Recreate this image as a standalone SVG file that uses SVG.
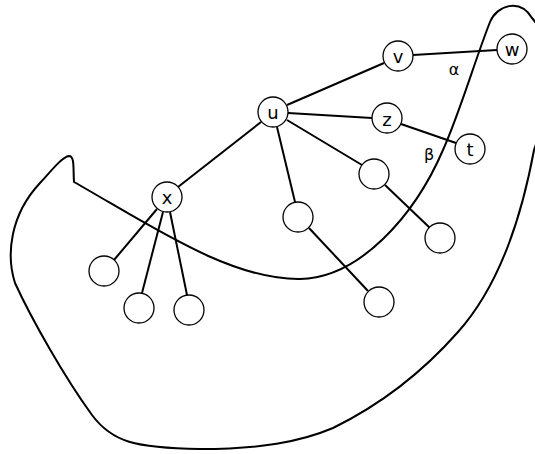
<svg xmlns="http://www.w3.org/2000/svg" width="535" height="454" viewBox="0 0 535 454">
<style>
.n{fill:#fff;stroke:#000;stroke-width:1.3}
.e{stroke:#000;stroke-width:2;fill:none}
.b{stroke:#000;stroke-width:2;fill:none}
.t{font-family:"DejaVu Sans",sans-serif;font-size:18px;text-anchor:middle;dominant-baseline:central;fill:#000}
.g{font-family:"DejaVu Sans",sans-serif;font-size:16px;text-anchor:middle;dominant-baseline:central;fill:#000}
</style>
<rect width="535" height="454" fill="#fff"/>
<path class="b" d="M74,182 C150,225 230,280 300,279 C360,278 415,215 443,150 C460,112 475,60 490,22 C497,5 520,-2 532,18 C556,45 550,105 534,150 C522,215 500,285 458,332 C420,375 380,405 333,428 C300,442 260,449 200,449 C135,448 112,442 92,415 C65,378 32,320 15,283 C6,255 10,215 40,183 C52,170 62,157 69,156 C75,156 73,170 74,182 Z"/>
<g id="connectors">
<line class="e" x1="287" y1="105" x2="384" y2="63"/>
<line class="e" x1="413" y1="55" x2="497" y2="50"/>
<line class="e" x1="288" y1="113" x2="372" y2="118"/>
<line class="e" x1="401" y1="124" x2="456" y2="143"/>
<line class="e" x1="261" y1="122" x2="178" y2="187"/>
<line class="e" x1="277" y1="127" x2="295" y2="202"/>
<line class="e" x1="287" y1="120" x2="362" y2="165"/>
<line class="e" x1="385" y1="185" x2="430" y2="228"/>
<line class="e" x1="309" y1="228" x2="368" y2="291"/>
<line class="e" x1="157" y1="209" x2="114" y2="260"/>
<line class="e" x1="163" y1="212" x2="142" y2="293"/>
<line class="e" x1="170" y1="212" x2="187" y2="295"/>
</g>
<g id="v"><circle class="n" cx="398" cy="56" r="15"/><text class="t" x="398" y="56">v</text></g>
<g id="w"><circle class="n" cx="512" cy="49" r="15"/><text class="t" x="512" y="49">w</text></g>
<g id="z"><circle class="n" cx="387" cy="118" r="15"/><text class="t" x="387" y="119">z</text></g>
<g id="t"><circle class="n" cx="470" cy="149" r="15"/><text class="t" x="470" y="149">t</text></g>
<g id="u"><circle class="n" cx="273" cy="112" r="15"/><text class="t" x="273" y="112">u</text></g>
<g id="x"><circle class="n" cx="167" cy="197" r="15"/><text class="t" x="167" y="197">x</text></g>
<g id="n1"><circle class="n" cx="104" cy="271" r="15"/></g>
<g id="n2"><circle class="n" cx="139" cy="308" r="15"/></g>
<g id="n3"><circle class="n" cx="189" cy="310" r="15"/></g>
<g id="n4"><circle class="n" cx="374" cy="174" r="15"/></g>
<g id="n5"><circle class="n" cx="298" cy="217" r="15"/></g>
<g id="n6"><circle class="n" cx="440" cy="238" r="15"/></g>
<g id="n7"><circle class="n" cx="379" cy="302" r="15"/></g>
<text class="g" x="454" y="69">α</text>
<text class="g" x="429" y="154">β</text>
</svg>
